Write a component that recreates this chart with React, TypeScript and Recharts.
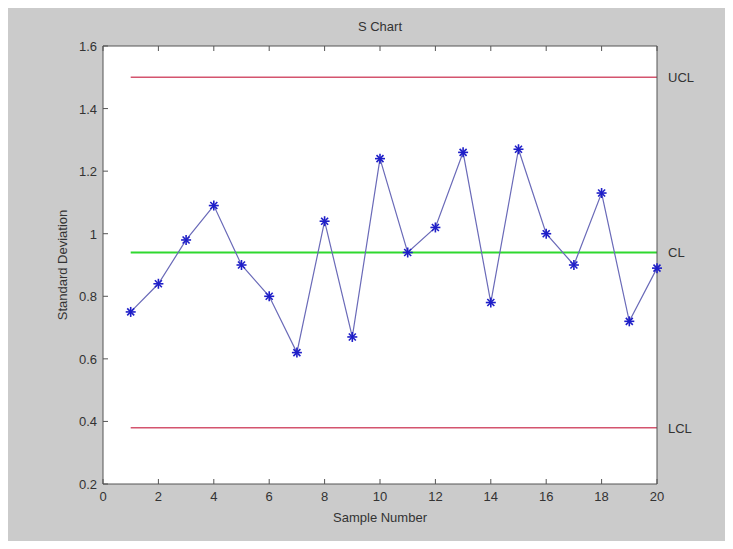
import React from 'react';
import {
  ComposedChart,
  Line,
  XAxis,
  YAxis,
  CartesianGrid,
} from 'recharts';

// sample numbers and standard deviations
const samples = [1, 2, 3, 4, 5, 6, 7, 8, 9, 10, 11, 12, 13, 14, 15, 16, 17, 18, 19, 20];
const stdDev = [0.75, 0.84, 0.98, 1.09, 0.9, 0.8, 0.62, 1.04, 0.67, 1.24, 0.94, 1.02, 1.26, 0.78, 1.27, 1.0, 0.9, 1.13, 0.72, 0.89];

// control limits
const UCL = 1.5;
const CL = 0.94;
const LCL = 0.38;

const xTicks = [0, 2, 4, 6, 8, 10, 12, 14, 16, 18, 20];
const yTicks = [0.2, 0.4, 0.6, 0.8, 1, 1.2, 1.4, 1.6];

const data = samples.map((s, i) => ({ sample: s, sd: stdDev[i], ucl: UCL, cl: CL, lcl: LCL }));

const FONT = '"Liberation Sans", Arial, sans-serif';
const TEXT = '#333';
const AXIS = '#555';
const TICK_LEN = 5;

const fmt = (v: number) => String(+v.toFixed(1));

// ticks drawn inward, like a boxed MATLAB axes
const BottomTick = (props: any) => {
  const { x, y, payload } = props;
  return (
    <g>
      <line x1={x} y1={y} x2={x} y2={y - TICK_LEN} stroke={AXIS} />
      <text x={x} y={y + 17} textAnchor="middle" fontSize={13} fontFamily={FONT} fill={TEXT}>
        {fmt(payload.value)}
      </text>
    </g>
  );
};

const TopTick = (props: any) => {
  const { x, y } = props;
  return <line x1={x} y1={y} x2={x} y2={y + TICK_LEN} stroke={AXIS} />;
};

const LeftTick = (props: any) => {
  const { x, y, payload } = props;
  return (
    <g>
      <line x1={x} y1={y} x2={x + TICK_LEN} y2={y} stroke={AXIS} />
      <text x={x - 6} y={y + 5} textAnchor="end" fontSize={13} fontFamily={FONT} fill={TEXT}>
        {fmt(payload.value)}
      </text>
    </g>
  );
};

const RightTick = (props: any) => {
  const { x, y } = props;
  return <line x1={x} y1={y} x2={x - TICK_LEN} y2={y} stroke={AXIS} />;
};

const StarDot = (props: any) => {
  const { cx, cy } = props;
  if (cx == null || cy == null) return null;
  const r = 5;
  const d = 3.5;
  return (
    <g stroke="#1f1fc8" strokeWidth={1.6}>
      <line x1={cx - r} y1={cy} x2={cx + r} y2={cy} />
      <line x1={cx} y1={cy - r} x2={cx} y2={cy + r} />
      <line x1={cx - d} y1={cy - d} x2={cx + d} y2={cy + d} />
      <line x1={cx - d} y1={cy + d} x2={cx + d} y2={cy - d} />
    </g>
  );
};

const limitLabel = (text: string) => (props: any) => {
  const { x, y, index } = props;
  if (index !== samples.length - 1) return null;
  return (
    <text x={x + 11} y={y + 5} fontSize={13} fontFamily={FONT} fill={TEXT}>
      {text}
    </text>
  );
};

export default function App() {
  return (
    <div style={{ position: 'relative', width: 733, height: 549, background: '#fff', margin: -8 }}>
      <div style={{ position: 'absolute', left: 8, top: 6, width: 719, height: 538, background: '#cbcbcb' }} />
      <div style={{ position: 'absolute', left: 0, top: 0 }}>
        <ComposedChart
          width={733}
          height={549}
          data={data}
          margin={{ top: 36, right: 66, bottom: 35, left: 63 }}
        >
          <CartesianGrid horizontal={false} vertical={false} fill="#fff" xAxisId="b" yAxisId="l" />
          <XAxis
            xAxisId="b"
            dataKey="sample"
            type="number"
            domain={[0, 20]}
            ticks={xTicks}
            tick={<BottomTick />}
            tickLine={false}
            tickSize={0}
            tickMargin={0}
            height={30}
            axisLine={{ stroke: AXIS }}
            interval={0}
          />
          <XAxis
            xAxisId="t"
            orientation="top"
            dataKey="sample"
            type="number"
            domain={[0, 20]}
            ticks={xTicks}
            tick={<TopTick />}
            tickLine={false}
            tickSize={0}
            tickMargin={0}
            height={10}
            axisLine={{ stroke: AXIS }}
            interval={0}
          />
          <YAxis
            yAxisId="l"
            type="number"
            domain={[0.2, 1.6]}
            ticks={yTicks}
            tick={<LeftTick />}
            tickLine={false}
            tickSize={0}
            tickMargin={0}
            width={40}
            axisLine={{ stroke: AXIS }}
            interval={0}
          />
          <YAxis
            yAxisId="r"
            orientation="right"
            type="number"
            domain={[0.2, 1.6]}
            ticks={yTicks}
            tick={<RightTick />}
            tickLine={false}
            tickSize={0}
            tickMargin={0}
            width={10}
            axisLine={{ stroke: AXIS }}
            interval={0}
          />
          <Line xAxisId="b" yAxisId="l" dataKey="ucl" stroke="#d4546e" strokeWidth={1.6} dot={false} isAnimationActive={false} label={limitLabel('UCL')} />
          <Line xAxisId="b" yAxisId="l" dataKey="lcl" stroke="#d4546e" strokeWidth={1.6} dot={false} isAnimationActive={false} label={limitLabel('LCL')} />
          <Line xAxisId="b" yAxisId="l" dataKey="cl" stroke="#2fd82f" strokeWidth={2} dot={false} isAnimationActive={false} label={limitLabel('CL')} />
          <Line
            xAxisId="b"
            yAxisId="l"
            dataKey="sd"
            stroke="#6a6ab8"
            strokeWidth={1.2}
            dot={<StarDot />}
            activeDot={false}
            isAnimationActive={false}
          />
        </ComposedChart>
      </div>
      <div style={{ position: 'absolute', left: 0, width: 760, top: 19, textAlign: 'center', fontFamily: FONT, fontSize: 13, color: TEXT }}>
        S Chart
      </div>
      <div style={{ position: 'absolute', left: 0, width: 760, top: 510, textAlign: 'center', fontFamily: FONT, fontSize: 13, color: TEXT }}>
        Sample Number
      </div>
      <div
        style={{
          position: 'absolute',
          left: 62,
          top: 265,
          transform: 'translate(-50%, -50%) rotate(-90deg)',
          whiteSpace: 'nowrap',
          fontFamily: FONT,
          fontSize: 13,
          color: TEXT,
        }}
      >
        Standard Deviation
      </div>
    </div>
  );
}
